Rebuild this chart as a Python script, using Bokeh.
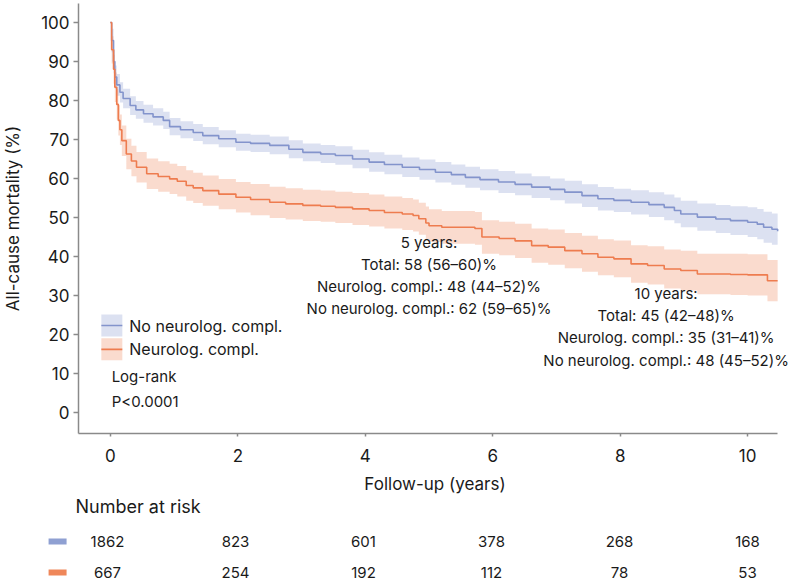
from bokeh.plotting import figure
from bokeh.models import Range1d, FixedTicker, ColumnDataSource, Label
from bokeh.core.properties import value
from bokeh.embed import file_html
from bokeh.resources import INLINE

FONT = "Inter"
TXT = "#1a1a1a"
AXC = "#8a8a8a"
BLUE = "#8394cc"
ORANGE = "#ee7c4f"

# ---------------- data ----------------
# No neurological complication
t_no = [0, 0.02, 0.05, 0.07, 0.1, 0.15, 0.2, 0.31, 0.4, 0.52, 0.67, 0.83, 0.93, 1.1, 1.3,
        1.45, 1.7, 1.97, 2.2, 2.5, 2.8, 3.02, 3.3, 3.53, 3.8, 4.06, 4.3, 4.58, 4.85, 5.1,
        5.35, 5.57, 5.8, 6.09, 6.35, 6.61, 6.9, 7.13, 7.4, 7.65, 7.9, 8.17, 8.45, 8.69,
        8.85, 8.95, 9.21, 9.5, 9.73, 10.0, 10.15, 10.25, 10.38, 10.47]
s_no = [100, 95.4, 90, 86, 84, 82.1, 80.5, 78.7, 77.6, 76.6, 75.8, 74.9, 73.3, 72.5, 71.8,
        71.0, 70.2, 69.3, 69.0, 68.5, 67.5, 66.7, 66.3, 65.9, 65.0, 64.2, 63.6, 62.9, 62.3, 61.6,
        61.0, 60.3, 59.7, 59.1, 58.5, 57.8, 57.2, 56.5, 55.6, 54.8, 54.4, 53.9, 53.3, 52.6,
        51.8, 50.9, 50.1, 49.6, 49.2, 48.8, 48.3, 47.5, 47.0, 46.5]
lo_no = [100, 92.4, 87, 83, 81.2, 79.5, 78.0, 76.3, 75.3, 74.3, 73.6, 72.7, 71.1, 70.3, 69.6,
         68.8, 68.0, 67.1, 66.8, 66.2, 65.2, 64.4, 64.0, 63.5, 62.6, 61.7, 61.1, 60.4, 59.7, 59.0,
         58.4, 57.6, 57.0, 56.3, 55.7, 55.0, 54.4, 53.6, 52.7, 51.8, 51.4, 50.8, 50.1, 49.3,
         48.5, 47.5, 46.6, 46.0, 45.5, 45.0, 44.4, 43.5, 43.0, 42.5]
hi_no = [100, 98.4, 93, 89, 86.8, 84.7, 83.0, 81.1, 79.9, 78.9, 78.0, 77.1, 75.5, 74.7, 74.0,
         73.2, 72.4, 71.5, 71.2, 70.8, 69.8, 69.0, 68.6, 68.3, 67.4, 66.7, 66.1, 65.4, 64.9, 64.2,
         63.6, 63.0, 62.4, 61.9, 61.3, 60.6, 60.0, 59.4, 58.5, 57.8, 57.4, 57.0, 56.5, 55.9,
         55.1, 54.3, 53.6, 53.2, 52.9, 52.6, 52.2, 51.5, 51.0, 50.5]

# Neurological complication
t_ne = [0, 0.02, 0.05, 0.07, 0.1, 0.125, 0.15, 0.18, 0.25, 0.33, 0.41, 0.57, 0.75, 0.93, 1.05,
        1.19, 1.3, 1.45, 1.7, 1.97, 2.2, 2.5, 2.75, 3.02, 3.3, 3.53, 3.8, 4.06, 4.3, 4.58,
        4.75, 4.84, 4.95, 5.0, 5.2, 5.5, 5.72, 5.83, 6.1, 6.35, 6.61, 6.87, 7.13, 7.4, 7.65,
        7.9, 8.17, 8.43, 8.69, 8.95, 9.21, 9.5, 9.73, 10.0, 10.31, 10.47]
s_ne = [100, 93, 88, 83.4, 79, 74.9, 72.5, 69.7, 66.3, 64.5, 62.9, 61.2, 60.5, 59.9, 59.3,
        58.2, 57.6, 56.9, 56.0, 55.2, 54.6, 53.9, 53.5, 53.1, 52.9, 52.6, 52.2, 51.8, 51.3, 50.9,
        50.5, 49.7, 48.6, 47.9, 47.5, 47.5, 47.2, 45.0, 44.6, 44.0, 42.8, 42.4, 41.5, 40.7, 39.8,
        39.4, 38.1, 37.7, 36.8, 36.4, 35.5, 35.5, 35.4, 35.3, 33.8, 33.8]
lo_ne = [100, 89.5, 84.3, 79.6, 75.1, 71.0, 68.6, 65.8, 62.4, 60.6, 59.0, 57.3, 56.6, 56.0, 55.4,
         54.3, 53.7, 53.0, 52.1, 51.3, 50.6, 49.9, 49.5, 49.1, 48.9, 48.6, 48.1, 47.7, 47.2, 46.8,
         46.4, 45.6, 44.4, 43.7, 43.3, 43.3, 43.0, 40.7, 40.3, 39.6, 38.4, 37.9, 37.0, 36.1, 35.2,
         34.7, 33.3, 32.8, 31.8, 31.3, 30.3, 30.3, 30.1, 30.0, 28.5, 28.5]
hi_ne = [100, 96.5, 91.7, 87.2, 82.9, 78.8, 76.4, 73.6, 70.2, 68.4, 66.8, 65.1, 64.4, 63.8, 63.2,
         62.1, 61.5, 60.8, 59.9, 59.1, 58.6, 57.9, 57.5, 57.1, 56.9, 56.6, 56.3, 55.9, 55.4, 55.0,
         54.6, 53.8, 52.8, 52.1, 51.7, 51.7, 51.4, 49.3, 48.9, 48.4, 47.2, 46.9, 46.0, 45.3, 44.4,
         44.1, 42.9, 42.6, 41.8, 41.5, 40.7, 40.7, 40.7, 40.6, 39.1, 39.1]

x_ticks = [0, 2, 4, 6, 8, 10]
y_ticks = [0, 10, 20, 30, 40, 50, 60, 70, 80, 90, 100]
risk_no = [1862, 823, 601, 378, 268, 168]
risk_ne = [667, 254, 192, 112, 78, 53]

legend_labels = ["No neurolog. compl.", "Neurolog. compl."]
stat_lines = ["Log-rank", "P<0.0001"]
five_lines = ["5 years:", "Total: 58 (56\u201360)%", "Neurolog. compl.: 48 (44\u201352)%",
              "No neurolog. compl.: 62 (59\u201365)%"]
ten_lines = ["10 years:", "Total: 45 (42\u201348)%", "Neurolog. compl.: 35 (31\u201341)%",
             "No neurolog. compl.: 48 (45\u201352)%"]

X_START, X_AXIS_END = -0.5, 10.46875

# ---------------- main plot ----------------
p = figure(width=791, height=497, x_range=Range1d(X_START, 10.6875), y_range=Range1d(-5.38, 104.87),
           output_backend="svg", toolbar_location=None,
           min_border_left=75, min_border_right=0, min_border_top=3, min_border_bottom=64)
p.outline_line_color = None
p.grid.visible = False

src_no = ColumnDataSource(dict(t=t_no, s=s_no, lo=lo_no, hi=hi_no))
src_ne = ColumnDataSource(dict(t=t_ne, s=s_ne, lo=lo_ne, hi=hi_ne))

p.varea_step(x="t", y1="lo", y2="hi", source=src_no, step_mode="after", fill_color=BLUE, fill_alpha=0.28)
p.varea_step(x="t", y1="lo", y2="hi", source=src_ne, step_mode="after", fill_color=ORANGE, fill_alpha=0.28)
p.step(x="t", y="s", source=src_no, mode="after", line_color=BLUE, line_width=1.6)
p.step(x="t", y="s", source=src_ne, mode="after", line_color=ORANGE, line_width=1.6)

xa = p.xaxis[0]
ya = p.yaxis[0]
xa.ticker = FixedTicker(ticks=x_ticks)
ya.ticker = FixedTicker(ticks=y_ticks)
xa.bounds = (X_START, X_AXIS_END)
xa.axis_label = "Follow-up (years)"
ya.axis_label = "All-cause mortality (%)"
for ax in (xa, ya):
    ax.axis_line_color = AXC
    ax.axis_line_width = 1.5
    ax.major_tick_line_color = AXC
    ax.major_tick_line_width = 1.5
    ax.minor_tick_line_color = None
    ax.major_tick_in = 0
    ax.major_label_text_font = FONT
    ax.major_label_text_font_size = "17px"
    ax.major_label_text_color = TXT
    ax.axis_label_text_font = FONT
    ax.axis_label_text_font_size = "17px"
    ax.axis_label_text_font_style = "normal"
    ax.axis_label_text_color = TXT
ya.major_tick_out = 5
ya.major_label_standoff = 4
ya.axis_label_standoff = 15
xa.major_tick_out = 3
xa.major_label_standoff = 12
xa.axis_label_standoff = 9

# legend (manual)
p.rect(x=[0.023, 0.023], y=[22.3, 16.2], width=21, height=22, width_units="screen", height_units="screen",
       fill_color=[BLUE, ORANGE], fill_alpha=0.28, line_color=None)
p.rect(x=[0.023, 0.023], y=[22.3, 16.2], width=21, height=1.6, width_units="screen", height_units="screen",
       fill_color=[BLUE, ORANGE], line_color=None)
p.text(x=[0.297, 0.297], y=[22.3, 16.2], text=legend_labels, text_font=value(FONT),
       text_font_size="16px", text_color=TXT, text_baseline="middle", text_align="left")
p.text(x=[0.02, 0.02], y=[9.2, 2.8], text=stat_lines, text_font=value(FONT),
       text_font_size="15px", text_color=TXT, text_baseline="middle", text_align="left")

# annotations
for txt, yy in zip(five_lines, [43.6, 37.9, 32.3, 26.7]):
    p.add_layout(Label(x=5.0, y=yy, text=txt, text_font=FONT, text_font_size="15px",
                       text_color=TXT, text_baseline="middle", text_align="center"))
for txt, yy in zip(ten_lines, [30.5, 24.9, 19.2, 13.3]):
    p.add_layout(Label(x=8.72, y=yy, text=txt, text_font=FONT, text_font_size="15px",
                       text_color=TXT, text_baseline="middle", text_align="center"))

# ---------------- risk table (separate root, full-width frame) ----------------
r = figure(width=791, height=88, x_range=Range1d(-1.671875, 10.6875), y_range=Range1d(88, 0),
           output_backend="svg", toolbar_location=None, min_border=0,
           min_border_left=0, min_border_right=0, min_border_top=0, min_border_bottom=0,
           x_axis_location=None, y_axis_location=None)
r.outline_line_color = None
r.grid.visible = False

r.text(x=[X_START], y=[9], text=["Number at risk"], text_font=value(FONT), text_font_size="18px",
       text_color=TXT, text_baseline="middle", text_align="left")
r.rect(x=[-0.78, -0.78], y=[44, 75], width=18, height=6, width_units="screen", height_units="screen",
       fill_color=["#8fa0d2", "#ef875a"], line_color=None)
r.text(x=x_ticks, y=[44] * len(x_ticks), text=[str(v) for v in risk_no], text_font=value(FONT),
       text_font_size="15px", text_color=TXT, text_baseline="middle", text_align="center")
r.text(x=x_ticks, y=[75] * len(x_ticks), text=[str(v) for v in risk_ne], text_font=value(FONT),
       text_font_size="15px", text_color=TXT, text_baseline="middle", text_align="center")

open("out.html", "w").write(file_html([p, r], INLINE))
